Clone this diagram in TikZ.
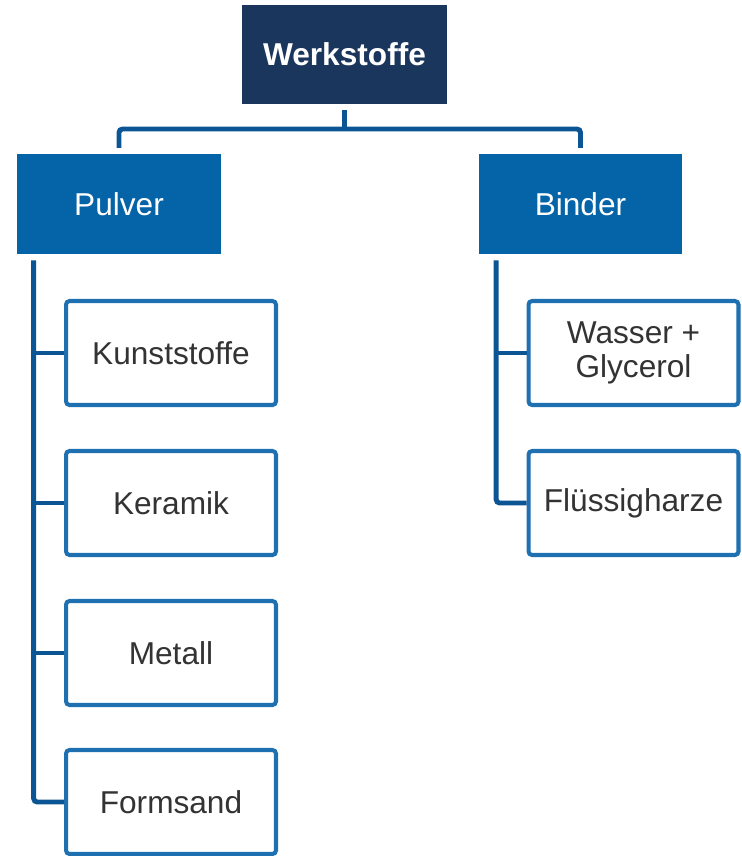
\documentclass[tikz,border=0pt]{standalone}
\usepackage{fontspec}
\setmainfont{Liberation Sans}
\usepackage{tikz}
\usetikzlibrary{calc,positioning}
\definecolor{navy}{HTML}{1B365D}
\definecolor{midblue}{HTML}{0563A8}
\definecolor{lineblue}{HTML}{0B5594}
\definecolor{boxblue}{HTML}{1F70B0}
\definecolor{textgray}{HTML}{333333}
\tikzstyle{root}   = [rectangle, minimum width=4.1cm, minimum height=1.98cm, fill=navy, text=white, font=\fontsize{18}{21}\selectfont\bfseries, inner sep=0pt]
\tikzstyle{group}  = [rectangle, minimum width=4.08cm, minimum height=2cm, fill=midblue, text=white, font=\fontsize{18}{21}\selectfont, inner sep=0pt]
\tikzstyle{leaf}   = [rectangle, rounded corners=2pt, minimum width=4.2cm, minimum height=2.08cm, draw=boxblue, line width=2.3pt, fill=white, text=textgray, align=center, font=\fontsize{18}{19.5}\selectfont, inner sep=0pt]
\tikzstyle{conn}   = [draw=lineblue, line width=2.8pt, rounded corners=2pt]

\begin{document}
\begin{tikzpicture}[x=0.02cm, y=-0.02cm]
        \useasboundingbox (0,0) rectangle (741,856);

        \node[root] (werk) at (344.5,54.5) {Werkstoffe};
        \node[group] (pulver) at (119,204) {Pulver};
        \node[group] (binder) at (580.5,204) {Binder};

        \node[leaf] (kunst) at (171,353) {Kunststoffe};
        \node[leaf] (keramik) at (171,503) {Keramik};
        \node[leaf] (metall) at (171,653) {Metall};
        \node[leaf] (formsand) at (171,802) {Formsand};

        \node[leaf] (wasser) at (633.5,353) {Wasser +\\Glycerol};
        \node[leaf] (harze) at (633.5,503) {Flüssigharze};

        \coordinate (split) at (344.5,129);
        \coordinate (ptrunk) at ($(pulver.south west)+(17,0)$);
        \coordinate (btrunk) at ($(binder.south west)+(18,0)$);

        % top level
        \draw[conn, shorten <=1.2\pgflinewidth] (werk.south) -- (split);
        \draw[conn, shorten <=1.2\pgflinewidth, shorten >=1.2\pgflinewidth] (pulver.north) |- (split) -| (binder.north);

        % Pulver
        \draw[conn, shorten <=1.2\pgflinewidth] (ptrunk) |- (formsand.west);
        \draw[conn] (kunst.west) -- (kunst.west -| ptrunk);
        \draw[conn] (keramik.west) -- (keramik.west -| ptrunk);
        \draw[conn] (metall.west) -- (metall.west -| ptrunk);

        % Binder
        \draw[conn, shorten <=1.2\pgflinewidth] (btrunk) |- (harze.west);
        \draw[conn] (wasser.west) -- (wasser.west -| btrunk);
    \end{tikzpicture}
\end{document}
